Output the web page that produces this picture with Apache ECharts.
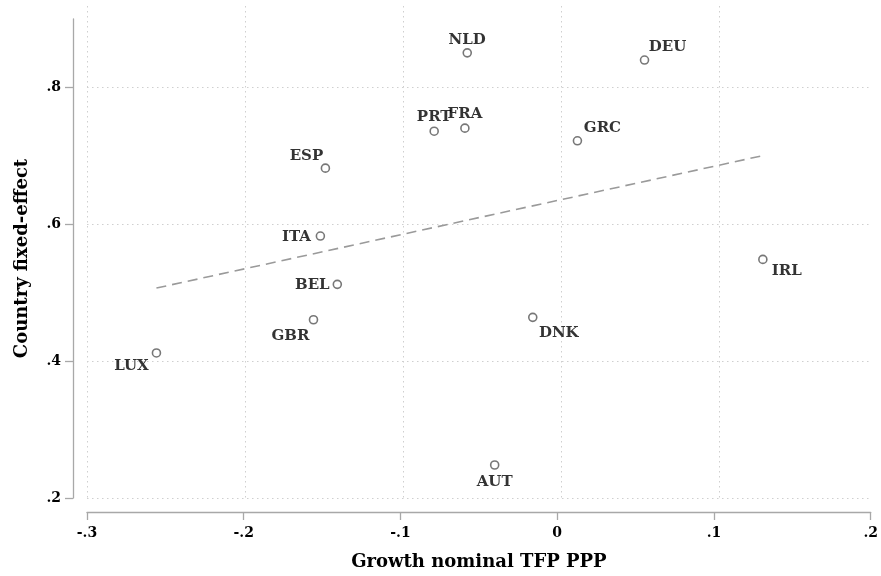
<!DOCTYPE html>
<html>
<head>
<meta charset="UTF-8">
<title>Country fixed-effect vs growth nominal TFP PPP</title>
<script src="https://cdn.jsdelivr.net/npm/echarts@6/dist/echarts.min.js"></script>
<style>
  html, body { margin: 0; padding: 0; background: #fff; }
  #chart { width: 881px; height: 576px; }
</style>
</head>
<body>
<div id="chart"></div>
<script>
// data
var countries = ['NLD', 'DEU', 'PRT', 'FRA', 'GRC', 'ESP', 'ITA', 'BEL', 'GBR', 'DNK', 'IRL', 'LUX', 'AUT'];
var tfpGrowth = [-0.0574, 0.0557, -0.0785, -0.0589, 0.0129, -0.1479, -0.1511, -0.1403, -0.1555, -0.0156, 0.1312, -0.2557, -0.0399];
var fixedEffect = [0.8505, 0.840, 0.736, 0.7405, 0.722, 0.682, 0.5828, 0.5122, 0.4605, 0.464, 0.5487, 0.412, 0.2482];
// fitted line end points
var fitX = [-0.2557, 0.1315];
var fitY = [0.5068, 0.7005];
var xTicks = [-0.3, -0.2, -0.1, 0, 0.1, 0.2];
var yTicks = [0.2, 0.4, 0.6, 0.8];

// where each marker label sits, relative to its marker
var labelOffset = {
  NLD: [0, -13], DEU: [23, -13], PRT: [0, -14], FRA: [0, -14], GRC: [25, -13],
  ESP: [-19, -12], ITA: [-24, 1], BEL: [-25, 1], GBR: [-23, 16], DNK: [26, 16],
  IRL: [24, 12], LUX: [-25, 13], AUT: [0, 17]
};

var font = 'DejaVu Serif';
function fmt(v) {
  var s = String(Math.round(v * 10) / 10);
  return s.replace(/^(-?)0\./, '$1.');
}

var points = [];
for (var i = 0; i < countries.length; i++) {
  var c = countries[i];
  points.push({
    value: [tfpGrowth[i], fixedEffect[i]],
    name: c,
    label: { offset: labelOffset[c] }
  });
}

var chart = echarts.init(document.getElementById('chart'), null, { renderer: 'canvas' });

var dotted = { color: '#cfcfcf', width: 1, type: [1.5, 3.5] };
var axisGray = '#a8a8a8';

chart.setOption({
  animation: false,
  backgroundColor: '#fff',
  grid: [
    { left: 87, right: 4, top: 19, bottom: 78 },
    { left: 87, right: 4, top: 6, bottom: 78 }
  ],
  xAxis: [
    {
      type: 'value', gridIndex: 0, min: -0.3, max: 0.2, interval: 0.1,
      offset: 14,
      name: 'Growth nominal TFP PPP', nameLocation: 'middle', nameGap: 41,
      nameTextStyle: { fontFamily: font, fontWeight: 'bold', fontSize: 18, color: '#000' },
      axisLine: { show: true, onZero: false, lineStyle: { color: axisGray, width: 1.3 } },
      axisTick: { show: true, length: 8, lineStyle: { color: axisGray, width: 1.3 } },
      axisLabel: {
        fontFamily: font, fontWeight: 'bold', fontSize: 14, color: '#000', margin: 14,
        formatter: fmt, showMinLabel: true, showMaxLabel: true
      },
      splitLine: { show: false }
    },
    {
      type: 'value', gridIndex: 1, min: -0.3, max: 0.2, interval: 0.1,
      axisLine: { show: false },
      axisTick: { show: false, customValues: [-0.3, -0.2, -0.1, 0, 0.1] },
      axisLabel: { show: false },
      splitLine: { show: true, lineStyle: dotted }
    }
  ],
  yAxis: [
    {
      type: 'value', gridIndex: 0, min: 0.2, max: 0.9,
      offset: 14,
      name: 'Country fixed-effect', nameLocation: 'middle', nameGap: 42,
      nameTextStyle: { fontFamily: font, fontWeight: 'bold', fontSize: 18, color: '#000' },
      axisLine: { show: true, onZero: false, lineStyle: { color: axisGray, width: 1.3 } },
      axisTick: { show: true, length: 8, customValues: yTicks, lineStyle: { color: axisGray, width: 1.3 } },
      axisLabel: {
        fontFamily: font, fontWeight: 'bold', fontSize: 14, color: '#000', margin: 12,
        customValues: yTicks, formatter: fmt
      },
      splitLine: { show: true, lineStyle: dotted }
    },
    {
      type: 'value', gridIndex: 1, min: 0.2, max: 0.92,
      show: false, splitLine: { show: false }
    }
  ],
  series: [
    {
      type: 'line',
      xAxisIndex: 0, yAxisIndex: 0,
      data: [[fitX[0], fitY[0]], [fitX[1], fitY[1]]],
      showSymbol: false,
      lineStyle: { color: '#9a9a9a', width: 1.6, type: [10, 6] },
      z: 2
    },
    {
      type: 'scatter',
      xAxisIndex: 0, yAxisIndex: 0,
      data: points,
      symbol: 'circle',
      symbolSize: 8,
      itemStyle: { color: '#fff', borderColor: '#555', borderWidth: 1.6 },
      label: {
        show: true, position: 'inside', formatter: '{b}',
        fontFamily: font, fontWeight: 'bold', fontSize: 15, color: '#000',
        align: 'center', verticalAlign: 'middle'
      },
      z: 3
    }
  ]
});
</script>
</body>
</html>
